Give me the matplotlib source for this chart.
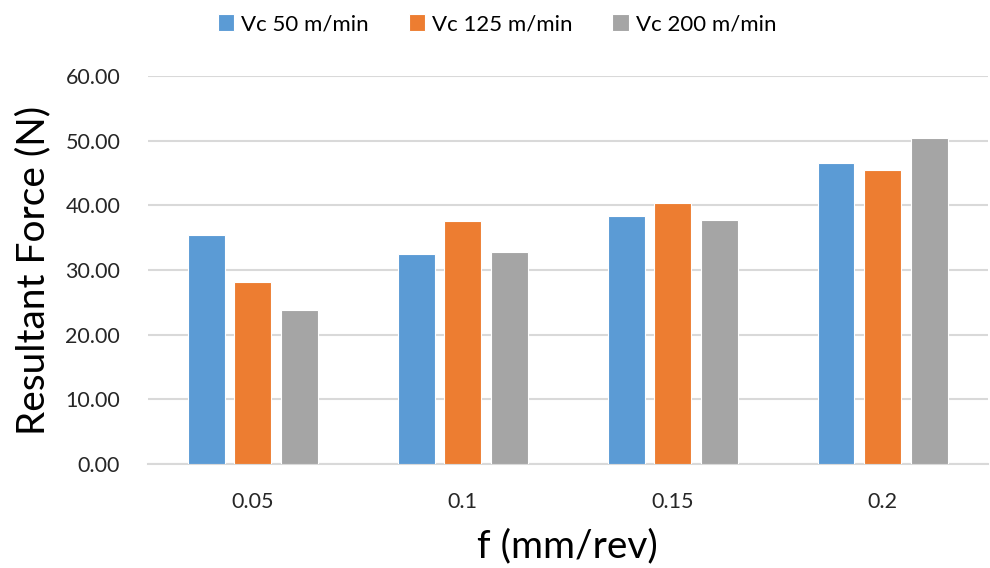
import numpy as np
import matplotlib.pyplot as plt

feeds = ['0.05', '0.1', '0.15', '0.2']
series = ['Vc 50 m/min', 'Vc 125 m/min', 'Vc 200 m/min']
vc50 = [35.4, 32.5, 38.4, 46.5]
vc125 = [28.2, 37.6, 40.3, 45.4]
vc200 = [23.8, 32.8, 37.8, 50.4]
colors = ['#5b9bd5', '#ed7d31', '#a5a5a5']

plt.rcParams['font.family'] = ['Lato', 'DejaVu Sans']

fig = plt.figure(figsize=(9.9, 5.68), dpi=100)
ax = fig.add_axes([0.1495, 0.1831, 0.848, 0.6831])

x = np.arange(len(feeds))
w = 0.176
step = 0.222
for i, (vals, name) in enumerate(zip([vc50, vc125, vc200], series)):
    ax.bar(x + (i - 1) * step, vals, width=w, color=colors[i],
           edgecolor='white', linewidth=0.8, label=name, zorder=3)

ax.set_xlim(-0.5, len(feeds) - 0.5)
ax.set_ylim(0, 60)
ax.set_yticks(np.arange(0, 61, 10))
ax.set_yticklabels(['%.2f' % v for v in np.arange(0, 61, 10)])
ax.set_xticks(x)
ax.set_xticklabels(feeds)
ax.tick_params(length=0, labelsize=15.5, colors='#262626')
ax.tick_params(axis='y', pad=20)
ax.tick_params(axis='x', pad=20)
ax.grid(axis='y', color='#d9d9d9', linewidth=1.5, zorder=0)
for s in ['top', 'right', 'left']:
    ax.spines[s].set_visible(False)
ax.spines['bottom'].set_color('#d9d9d9')
ax.spines['bottom'].set_linewidth(1.5)

ax.set_ylabel('Resultant Force (N)', fontsize=28, labelpad=10)
ax.set_xlabel('f (mm/rev)', fontsize=28, labelpad=12)

fig.legend(loc='upper center', bbox_to_anchor=(0.502, 1.01), ncol=3, frameon=False,
           fontsize=16, handlelength=0.75, handleheight=0.75, columnspacing=1.8,
           handletextpad=0.3)

fig.savefig('out.png', dpi=100)
